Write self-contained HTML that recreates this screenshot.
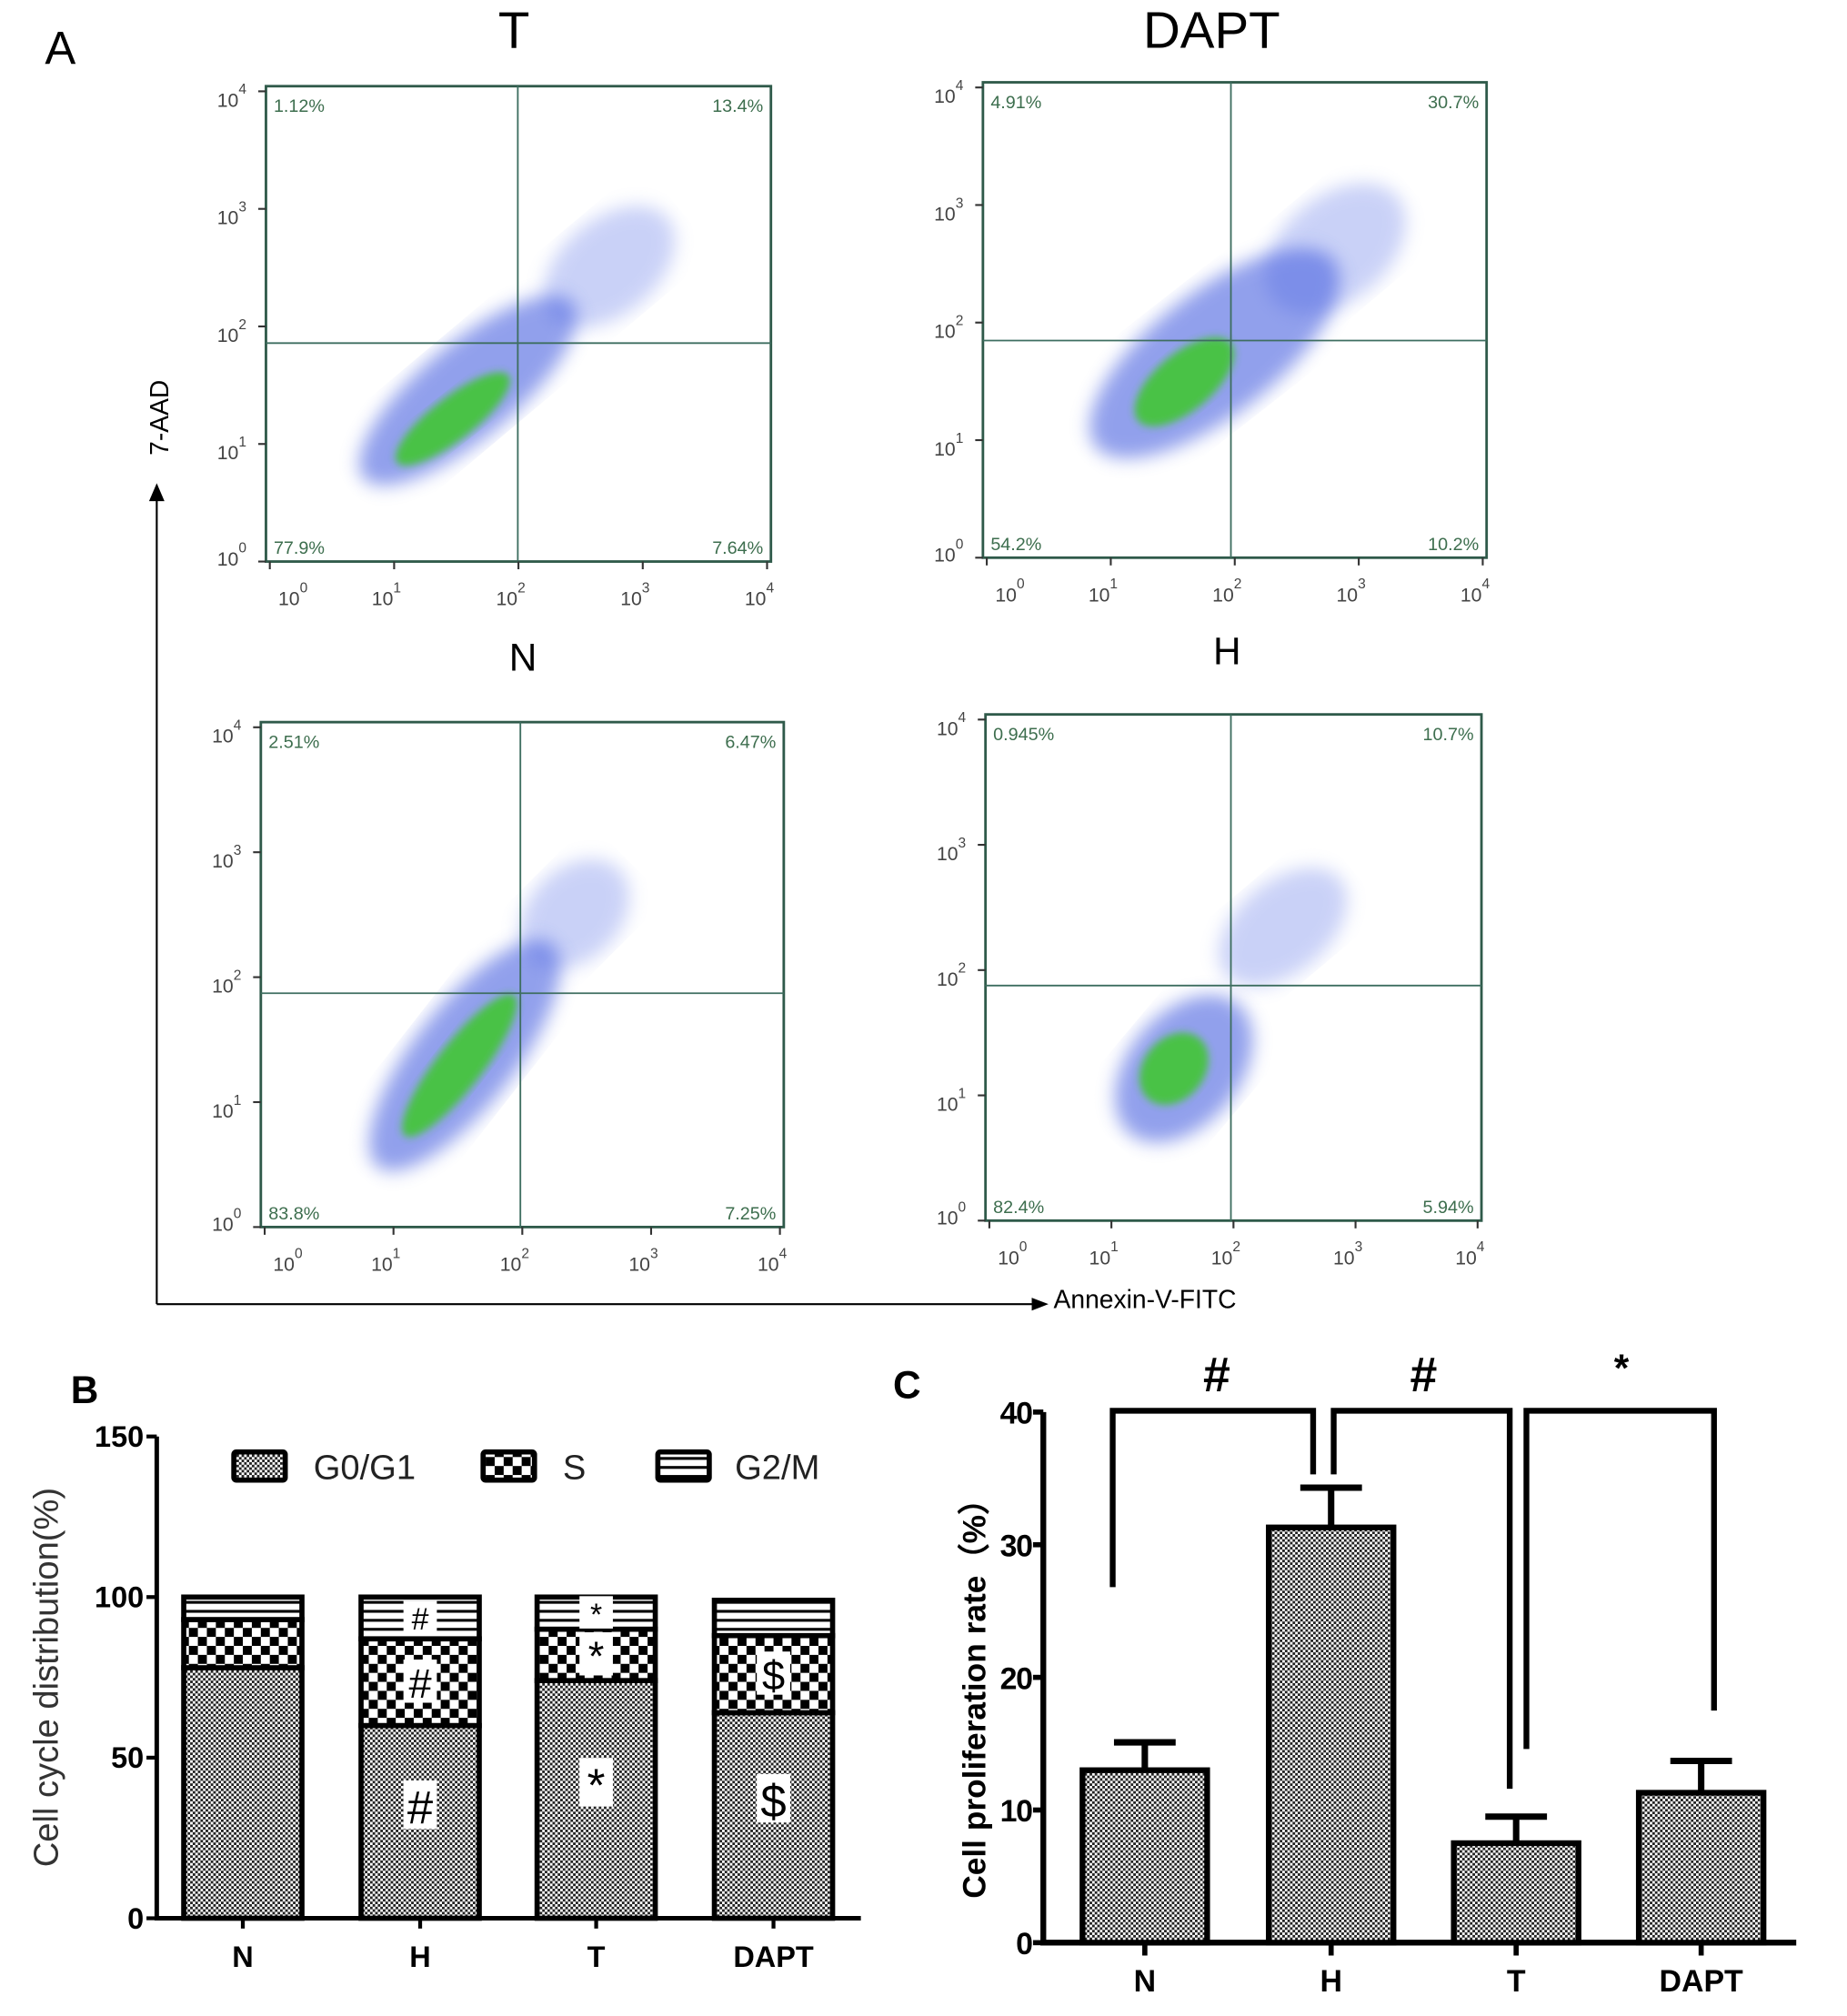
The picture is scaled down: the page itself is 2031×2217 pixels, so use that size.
<!DOCTYPE html>
<html><head><meta charset="utf-8"><style>
html,body{margin:0;padding:0;background:#fff}
svg{display:block}
text{font-family:"Liberation Sans",Arial,sans-serif}
</style></head><body>
<svg id="fig" width="2031" height="2217" viewBox="0 0 1437.5 1569" xmlns="http://www.w3.org/2000/svg">
<defs>
<pattern id="pFine" width="4" height="4" patternUnits="userSpaceOnUse"><rect width="4" height="4" fill="#fff"/><rect width="2" height="2" fill="#222"/><rect x="2" y="2" width="2" height="2" fill="#222"/></pattern>
<pattern id="pCheck" width="14" height="14" patternUnits="userSpaceOnUse"><rect width="14" height="14" fill="#fff"/><rect width="7" height="7" fill="#000"/><rect x="7" y="7" width="7" height="7" fill="#000"/></pattern>
<pattern id="pLines" width="8" height="7" patternUnits="userSpaceOnUse"><rect width="8" height="7" fill="#fff"/><rect y="0" width="8" height="2.2" fill="#000"/></pattern>
<filter id="blur6"><feGaussianBlur stdDeviation="7"/></filter>
<filter id="blur3"><feGaussianBlur stdDeviation="3"/></filter>
</defs>
<g id="panelA"></g>
<g id="panelB"></g>
<g id="panelC"></g>
</svg>
<script>
const NS="http://www.w3.org/2000/svg";
function mk(parent,tag,attrs,txt){const e=document.createElementNS(NS,tag);for(const k in attrs)e.setAttribute(k,attrs[k]);if(txt!==undefined)e.textContent=txt;parent.appendChild(e);return e;}

/* ===== Panel B data ===== */
const bCategories=["N","H","T","DAPT"];
const bG0G1=[78,60,74,64];
const bS=[15,27,16,24];
const bG2M=[7,13,10,11];
const bTicks=[0,50,100,150];
const bMarkG0=["","#","*","$"];
const bMarkS=["","#","*","$"];
const bMarkG2=["","#","*",""];

/* ===== Panel C data ===== */
const cCategories=["N","H","T","DAPT"];
const cValues=[13.0,31.3,7.5,11.3];
const cErrors=[2.1,3.0,2.0,2.4];
const cTicks=[0,10,20,30,40];

/* ===== Panel A data (quadrant percentages) ===== */
const aPlots=["N","H","T-plot","DAPT-plot"];
const aUL=["1.12%","4.91%","2.51%","0.945%"];
const aUR=["13.4%","30.7%","6.47%","10.7%"];
const aLL=["77.9%","54.2%","83.8%","82.4%"];
const aLR=["7.64%","10.2%","7.25%","5.94%"];

/* ---------- Panel A ---------- */
(function(){
const g=document.getElementById('panelA');
let t;
t=mk(g,'text',{x:47,y:50,'font-size':36,'text-anchor':'middle'},'A');


t=mk(g,'text',{x:400,y:37,'font-size':40,'text-anchor':'middle'},'T');


t=mk(g,'text',{x:943,y:37,'font-size':40,'text-anchor':'middle'},'DAPT');


t=mk(g,'text',{x:407,y:522,'font-size':30,'text-anchor':'middle','font-family':'Liberation Serif, serif'},'N');


t=mk(g,'text',{x:955,y:517,'font-size':30,'text-anchor':'middle','font-family':'Liberation Serif, serif'},'H');


let l=mk(g,'path',{d:'M122,1015 L122,385 M122,1015 L810,1015',stroke:'#000','stroke-width':1.5,fill:'none'});


mk(g,'path',{d:'M116,390 L122,376 L128,390 Z',fill:'#000'});
mk(g,'path',{d:'M803,1010 L816,1015 L803,1020 Z',fill:'#000'});
t=mk(g,'text',{x:0,y:0,'font-size':20,'text-anchor':'middle',transform:'translate(131,325) rotate(-90)'},'7-AAD');


t=mk(g,'text',{x:820,y:1018,'font-size':20},'Annexin-V-FITC');



const boxes=[[207,67,600,437,403,267],[765,64,1157,434,958,265],[203,562,610,955,405,773],[767,556,1153,950,958,767]];
const blobs=[
 {halo:[0.40,0.64,0.27,0.10,-40],core:[0.37,0.70,0.14,0.045,-38],up:[0.68,0.38,0.15,0.10,-40]},
 {halo:[0.46,0.57,0.30,0.13,-38],core:[0.40,0.63,0.12,0.06,-40],up:[0.70,0.35,0.16,0.11,-40]},
 {halo:[0.39,0.66,0.27,0.10,-52],core:[0.38,0.68,0.17,0.045,-52],up:[0.60,0.38,0.12,0.09,-45]},
 {halo:[0.40,0.70,0.17,0.11,-50],core:[0.38,0.70,0.08,0.06,-50],up:[0.60,0.42,0.15,0.09,-40]}];
boxes.forEach((b,i)=>{
 const [x0,y0,x1,y1,qx,qy]=b;const w=x1-x0,h=y1-y0;
 const pg=mk(g,'g',{});
 
 
 const bl=blobs[i];
 const E=(p,fill,op,f)=>mk(pg,'ellipse',{cx:x0+p[0]*w,cy:y0+p[1]*h,rx:p[2]*w,ry:p[3]*h,fill:fill,opacity:op,filter:f,transform:`rotate(${p[4]} ${x0+p[0]*w} ${y0+p[1]*h})`});
 E(bl.up,'#8a9bee',0.45,'url(#blur6)');
 E(bl.halo,'#4a62e0',0.6,'url(#blur6)');
 E(bl.core,'#3ec82a',0.85,'url(#blur3)');
 mk(pg,'rect',{x:x0,y:y0,width:w,height:h,fill:'none',stroke:'#2f5a4a','stroke-width':2});
 mk(pg,'line',{x1:qx,y1:y0,x2:qx,y2:y1,stroke:'#3e6e60','stroke-width':1.3});
 mk(pg,'line',{x1:x0,y1:qy,x2:x1,y2:qy,stroke:'#3e6e60','stroke-width':1.3});
 const fs=14,col='#3d6e4e';
 mk(pg,'text',{x:x0+6,y:y0+20,'font-size':fs,fill:col},aUL[i]);
 mk(pg,'text',{x:x1-6,y:y0+20,'font-size':fs,fill:col,'text-anchor':'end'},aUR[i]);
 mk(pg,'text',{x:x0+6,y:y1-6,'font-size':fs,fill:col},aLL[i]);
 mk(pg,'text',{x:x1-6,y:y1-6,'font-size':fs,fill:col,'text-anchor':'end'},aLR[i]);
 for(let k=0;k<=4;k++){
  const xx=x0+3+k*(w-6)/4, yy=y1-k*(h-4)/4;
  mk(pg,'line',{x1:xx,y1:y1,x2:xx,y2:y1+6,stroke:'#333','stroke-width':1.5});
  const tx=mk(pg,'text',{x:xx+(k==0?18:-6),y:y1+34,'font-size':15,fill:'#444','text-anchor':'middle'},'10');
  mk(tx,'tspan',{dy:-10,'font-size':11},String(k));
  mk(pg,'line',{x1:x0,y1:yy,x2:x0-6,y2:yy,stroke:'#333','stroke-width':1.5});
  const ty=mk(pg,'text',{x:x0-38,y:yy+(k==0?3:12),'font-size':15,fill:'#444'},'10');
  mk(ty,'tspan',{dy:-10,'font-size':11},String(k));
 }
});
})();

/* ---------- Panel B ---------- */
(function(){
const g=document.getElementById('panelB');
const X0=122,Y0=1493,XEND=670,ppu=(1493-1118)/150;
const yS=v=>Y0-v*ppu;
const centers=[189,327,464,602],bw=92;
let t=mk(g,'text',{x:55,y:1092,'font-size':30,'font-weight':'bold'},'B');


let ax=mk(g,'path',{d:`M${X0},${yS(150)} L${X0},${Y0} L${XEND},${Y0}`,stroke:'#000','stroke-width':3.5,fill:'none'});


bTicks.forEach(v=>{
 mk(g,'line',{x1:X0-8,y1:yS(v),x2:X0,y2:yS(v),stroke:'#000','stroke-width':3});
 const tl=mk(g,'text',{x:X0-10,y:yS(v)+8,'font-size':23,'font-weight':'bold','text-anchor':'end'},String(v));
 
 
});
t=mk(g,'text',{x:0,y:0,'font-size':27,'text-anchor':'middle',fill:'#333',transform:`translate(45,${yS(75)}) rotate(-90)`},'Cell cycle distribution(%)');


const markBox=(x,y,s,sz)=>{if(!s)return;mk(g,'rect',{x:x-13,y:y-sz*0.55,width:26,height:sz*1.05,fill:'#fff'});mk(g,'text',{x:x,y:y+sz*0.38,'font-size':sz,'text-anchor':'middle','font-family':'Liberation Serif, serif'},s);};
bCategories.forEach((c,i)=>{
 const cx=centers[i],x=cx-bw/2;
 const a=bG0G1[i],b=bS[i],d=bG2M[i];
 const segs=[[0,a,'url(#pFine)','g0g1'],[a,a+b,'url(#pCheck)','s'],[a+b,a+b+d,'url(#pLines)','g2m']];
 segs.forEach(s=>{
  const r=mk(g,'rect',{x:x,y:yS(s[1]),width:bw,height:yS(s[0])-yS(s[1]),fill:s[2],stroke:'#000','stroke-width':4});
  
  
 });
 markBox(cx,yS(a/2+5),bMarkG0[i],36);
 markBox(cx,yS(a+b/2),bMarkS[i],32);
 markBox(cx,yS(a+b+d/2),bMarkG2[i],24);
 mk(g,'line',{x1:cx,y1:Y0,x2:cx,y2:Y0+8,stroke:'#000','stroke-width':3});
 const tl=mk(g,'text',{x:cx,y:Y0+38,'font-size':23,'font-weight':'bold','text-anchor':'middle'},c);
 
 
});
const leg=[[180,'url(#pFine)','G0/G1',244],[374,'url(#pCheck)','S',438],[510,'url(#pLines)','G2/M',572]];
leg.forEach(l=>{
 const le=mk(g,'g',{});
 
 
 mk(le,'rect',{x:l[0]+2,y:1130,width:40,height:22,fill:l[1],stroke:'#000','stroke-width':4,rx:2});
 mk(le,'text',{x:l[3],y:1151,'font-size':27,fill:'#222'},l[2]);
});
})();

/* ---------- Panel C ---------- */
(function(){
const g=document.getElementById('panelC');
const X0=812,Y0=1512,XEND=1398,ppu=(1512-1099)/40;
const yS=v=>Y0-v*ppu;
const centers=[891,1036,1180,1324],bw=97;
let t=mk(g,'text',{x:695,y:1088,'font-size':30,'font-weight':'bold'},'C');


let ax=mk(g,'path',{d:`M${X0},${yS(40)} L${X0},${Y0} L${XEND},${Y0}`,stroke:'#000','stroke-width':4.5,fill:'none'});


cTicks.forEach(v=>{
 mk(g,'line',{x1:X0-8,y1:yS(v),x2:X0,y2:yS(v),stroke:'#000','stroke-width':4});
 const tl=mk(g,'text',{x:X0-9,y:yS(v)+9,'font-size':24,'font-weight':'bold','text-anchor':'end','letter-spacing':'-1'},String(v));
 
 
});
t=mk(g,'text',{x:0,y:0,'font-size':25,'font-weight':'bold','text-anchor':'middle',transform:`translate(767,${yS(19)}) rotate(-90)`,'font-family':'Liberation Sans, Noto Sans CJK SC, sans-serif'},'Cell proliferation rate（%）');


cCategories.forEach((c,i)=>{
 const cx=centers[i],v=cValues[i],e=cErrors[i];
 const eb=mk(g,'path',{d:`M${cx},${yS(v)} L${cx},${yS(v+e)} M${cx-24},${yS(v+e)} L${cx+24},${yS(v+e)}`,stroke:'#000','stroke-width':5,fill:'none'});
 
 
 const r=mk(g,'rect',{x:cx-bw/2,y:yS(v),width:bw,height:Y0-yS(v),fill:'url(#pFine)',stroke:'#000','stroke-width':4.5});
 
 
 mk(g,'line',{x1:cx,y1:Y0,x2:cx,y2:Y0+10,stroke:'#000','stroke-width':4});
 const tl=mk(g,'text',{x:cx,y:Y0+38,'font-size':24,'font-weight':'bold','text-anchor':'middle'},c);
 
 
});
const brk=[[866,26.8,1022,35.3,'#',947],[1038,35.3,1175,11.6,'#',1108],[1188,14.6,1334,17.5,'*',1262]];
brk.forEach((b,i)=>{
 const p=mk(g,'path',{d:`M${b[0]},${yS(b[1])} L${b[0]},${yS(40.1)} L${b[2]},${yS(40.1)} L${b[2]},${yS(b[3])}`,stroke:'#000','stroke-width':4.5,fill:'none'});
 
 
 const s=mk(g,'text',{x:b[5],y:b[4]=='*'?1075:1083,'font-size':b[4]=='*'?30:38,'font-weight':'bold','text-anchor':'middle'},b[4]);
 
 
});
})();
</script>
</body></html>
